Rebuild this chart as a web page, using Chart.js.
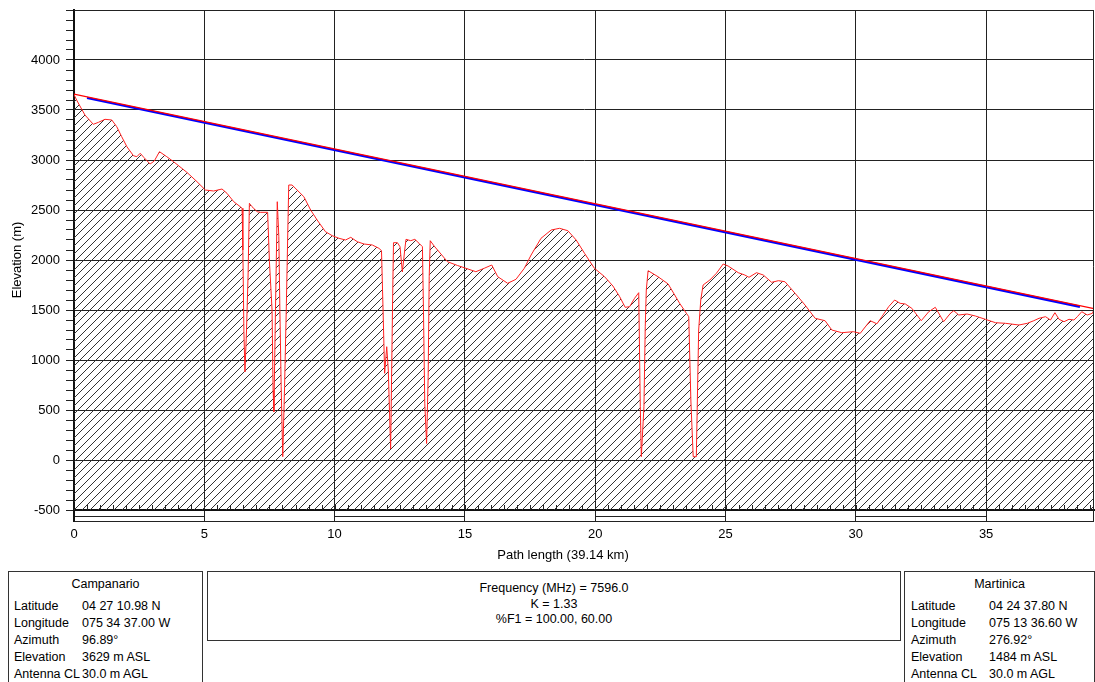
<!DOCTYPE html>
<html>
<head>
<meta charset="utf-8">
<title>Path profile</title>
<script src="https://cdn.jsdelivr.net/npm/chart.js@4.4.1/dist/chart.umd.min.js"></script>
<style>
  html, body { margin: 0; padding: 0; background: #fff; overflow: hidden; }
  body { width: 1095px; height: 682px; position: relative; font: 13px "Liberation Sans", Arial, sans-serif; color: #000; }
  #profile { position: absolute; left: 0; top: 0; }
  .xtitle { position: absolute; left: 463px; top: 547px; width: 200px; text-align: center; line-height: 16px; }
  .box { position: absolute; top: 571px; border: 1px solid #333; box-sizing: border-box; font-size: 12.5px; }
  .box div { position: absolute; line-height: 16px; white-space: nowrap; }
  .box .name { left: 0; right: 0; text-align: center; }
  .mid div { left: 0; right: 0; text-align: center; }
</style>
</head>
<body>
<canvas id="profile" width="1095" height="565"></canvas>
<div class="xtitle">Path length (39.14 km)</div>

<div class="box" style="left:8px;width:195px;height:130px;">
  <div class="name" style="top:4px;">Campanario</div>
  <div style="left:5px;top:26px;">Latitude</div><div style="left:73px;top:26px;">04 27 10.98 N</div>
  <div style="left:5px;top:43px;">Longitude</div><div style="left:73px;top:43px;">075 34 37.00 W</div>
  <div style="left:5px;top:60px;">Azimuth</div><div style="left:73px;top:60px;">96.89°</div>
  <div style="left:5px;top:77px;">Elevation</div><div style="left:73px;top:77px;">3629 m ASL</div>
  <div style="left:5px;top:94px;">Antenna CL</div><div style="left:73px;top:94px;">30.0 m AGL</div>
</div>

<div class="box mid" style="left:207px;width:694px;height:70px;">
  <div style="top:8px;">Frequency (MHz) = 7596.0</div>
  <div style="top:24px;">K = 1.33</div>
  <div style="top:39px;">%F1 = 100.00, 60.00</div>
</div>

<div class="box" style="left:904px;width:191px;height:130px;">
  <div class="name" style="top:4px;">Martinica</div>
  <div style="left:6px;top:26px;">Latitude</div><div style="left:84px;top:26px;">04 24 37.80 N</div>
  <div style="left:6px;top:43px;">Longitude</div><div style="left:84px;top:43px;">075 13 36.60 W</div>
  <div style="left:6px;top:60px;">Azimuth</div><div style="left:84px;top:60px;">276.92°</div>
  <div style="left:6px;top:77px;">Elevation</div><div style="left:84px;top:77px;">1484 m ASL</div>
  <div style="left:6px;top:94px;">Antenna CL</div><div style="left:84px;top:94px;">30.0 m AGL</div>
</div>

<script>
// terrain profile (distance km / elevation m)
var profileKm = [
  0, 0.1, 0.42, 0.74, 0.94, 1.19, 1.45, 1.64, 1.83, 2.03, 2.28, 2.41, 2.54, 2.69, 2.92, 3.08,
  3.28, 3.56, 3.82, 4.33, 4.72, 5.04, 5.36, 5.68, 5.87, 6.13, 6.38, 6.45, 6.48, 6.52, 6.56,
  6.62, 6.68, 6.73, 6.83, 7.03, 7.15, 7.43, 7.5, 7.6, 7.64, 7.67, 7.73, 7.8, 7.86, 7.9, 7.95,
  8.01, 8.08, 8.15, 8.21, 8.24, 8.37, 8.56, 8.82, 9.08, 9.33, 9.65, 9.91, 10.17, 10.42, 10.62,
  10.87, 11.13, 11.45, 11.7, 11.8, 11.86, 11.92, 12.0, 12.06, 12.15, 12.19, 12.23, 12.26,
  12.41, 12.51, 12.6, 12.69, 12.74, 12.92, 13.08, 13.24, 13.37, 13.41, 13.46, 13.53, 13.59,
  13.63, 13.67, 13.82, 14.08, 14.33, 14.72, 15.04, 15.42, 15.74, 16.03, 16.26, 16.64, 16.96,
  17.28, 17.54, 17.92, 18.31, 18.63, 18.95, 19.27, 19.59, 19.97, 20.36, 20.68, 20.94, 21.15,
  21.32, 21.51, 21.67, 21.73, 21.77, 21.87, 21.92, 21.96, 22.03, 22.41, 22.8, 23.24, 23.5,
  23.59, 23.67, 23.76, 23.88, 23.92, 23.97, 24.05, 24.14, 24.4, 24.65, 24.91, 25.1, 25.49,
  25.74, 25.9, 26.19, 26.45, 26.77, 27.03, 27.28, 27.67, 28.05, 28.44, 28.82, 29.08, 29.46,
  29.91, 30.17, 30.55, 30.81, 31.0, 31.26, 31.49, 31.7, 31.9, 32.15, 32.51, 32.8, 33.05,
  33.37, 33.63, 33.76, 33.95, 34.27, 34.59, 34.97, 35.36, 35.74, 36.26, 36.58, 36.83, 37.03,
  37.28, 37.47, 37.64, 37.8, 37.99, 38.18, 38.37, 38.5, 38.67, 38.88, 39.08, 39.14
];
var profileElev = [
  3655, 3600, 3450, 3357, 3377, 3407, 3400, 3333, 3233, 3133, 3043, 3033, 3067, 3023, 2960, 2990,
  3083, 3033, 2983, 2877, 2783, 2700, 2690, 2710, 2667, 2583, 2533, 2517, 2100, 1280, 880,
  1300, 1850, 2567, 2533, 2483, 2477, 2477, 1983, 1500, 700, 483, 1483, 2583, 2233, 1500, 733,
  33, 733, 1567, 2367, 2750, 2750, 2700, 2633, 2500, 2400, 2283, 2243, 2217, 2200, 2227,
  2183, 2160, 2150, 2117, 2093, 1500, 867, 1133, 900, 110, 900, 1667, 2173,
  2173, 2133, 1880, 2100, 2207, 2193, 2207, 2167, 2133, 1500, 567, 165, 833,
  1833, 2193, 2140, 2060, 1983, 1945, 1917, 1883, 1917, 1950, 1833, 1767, 1807,
  1917, 2050, 2217, 2300, 2317, 2293, 2200, 2067, 1917, 1833, 1740, 1633, 1527,
  1533, 1617, 1673, 533, 33, 533, 1333, 1700, 1893, 1833, 1760, 1567, 1467,
  1433, 600, 33, 33, 600, 1300, 1600, 1750, 1800, 1867, 1960, 1940, 1873,
  1850, 1827, 1873, 1850, 1777, 1793, 1783, 1667, 1550, 1417, 1393, 1300, 1273,
  1283, 1267, 1393, 1362, 1433, 1533, 1600, 1567, 1560, 1517, 1393, 1483, 1527,
  1383, 1467, 1493, 1450, 1460, 1440, 1407, 1373, 1367, 1350, 1367, 1393, 1417,
  1433, 1400, 1473, 1407, 1383, 1407, 1400, 1433, 1483, 1450, 1467, 1505
];

// line of sight (red) and the second ray (blue)
var losKm = [0, 39.14];
var losElev = [3659, 1514];
var rayKm = [0.5, 38.6];
var rayElev = [3621, 1533];

var xMin = 0;
var xMax = 39.14;
var xStep = 5;
var yMin = -500;
var yMax = 4500;
var yMinorStep = 100;
var yLabelStep = 500;

var FONT = { family: '"Liberation Sans", Arial, sans-serif', size: 13 };

function toPoints(xs, ys) {
  return xs.map(function (x, i) { return { x: x, y: ys[i] }; });
}

function makeHatch() {
  var c = document.createElement('canvas');
  c.width = 8;
  c.height = 8;
  var g = c.getContext('2d');
  g.strokeStyle = '#333';
  g.lineWidth = 1;
  g.beginPath();
  g.moveTo(-1, 9); g.lineTo(9, -1);
  g.moveTo(-1, 1); g.lineTo(1, -1);
  g.moveTo(7, 9); g.lineTo(9, 7);
  g.stroke();
  return g.createPattern(c, 'repeat');
}

// frame, scale strip under the baseline and the 0.5 km minor ticks
var frameDecor = {
  id: 'frameDecor',
  afterDraw: function (chart) {
    var ctx = chart.ctx;
    var a = chart.chartArea;
    var xs = chart.scales.x;
    var strip = 12;
    ctx.save();
    ctx.strokeStyle = '#222';
    ctx.lineWidth = 1;
    ctx.beginPath();
    ctx.moveTo(a.left, a.top + 0.5);
    ctx.lineTo(a.right - 0.5, a.top + 0.5);
    ctx.lineTo(a.right - 0.5, a.bottom + strip);
    ctx.stroke();

    ctx.beginPath();
    for (var k = 0.5; k < xMax; k += 0.5) {
      var px = Math.round(xs.getPixelForValue(k)) + 0.5;
      ctx.moveTo(px, a.bottom);
      ctx.lineTo(px, a.bottom - 5);
    }
    ctx.stroke();

    ctx.beginPath();
    ctx.moveTo(a.left, a.bottom + strip - 0.5);
    ctx.lineTo(a.right, a.bottom + strip - 0.5);
    for (var s = 0; s < xMax; s += 2 * xStep) {
      var x0 = xs.getPixelForValue(s);
      var x1 = xs.getPixelForValue(Math.min(s + xStep, xMax));
      ctx.moveTo(x0, a.bottom + 6.5);
      ctx.lineTo(x1, a.bottom + 6.5);
    }
    ctx.stroke();

    ctx.lineWidth = 2;
    ctx.strokeStyle = '#111';
    ctx.beginPath();
    ctx.moveTo(a.left, a.bottom);
    ctx.lineTo(a.left, a.bottom + strip);
    ctx.stroke();
    ctx.restore();
  }
};

new Chart(document.getElementById('profile'), {
  type: 'line',
  data: {
    datasets: [
      {
        data: toPoints(losKm, losElev),
        borderColor: '#ff0000',
        borderWidth: 1.3,
        pointRadius: 0,
        fill: false,
        order: 1,
      },
      {
        data: toPoints(rayKm, rayElev),
        borderColor: '#0000ff',
        borderWidth: 2.5,
        pointRadius: 0,
        fill: false,
        order: 2,
      },
      {
        data: toPoints(profileKm, profileElev),
        borderColor: '#ff2020',
        borderWidth: 1,
        backgroundColor: makeHatch(),
        pointRadius: 0,
        tension: 0,
        fill: 'start',
        order: 3,
      },
    ],
  },
  options: {
    responsive: false,
    animation: false,
    events: [],
    layout: { padding: { top: 10, right: 1, left: 0, bottom: 0 } },
    plugins: { legend: { display: false }, tooltip: { enabled: false } },
    scales: {
      x: {
        type: 'linear',
        min: xMin,
        max: xMax,
        ticks: { stepSize: xStep, includeBounds: false, padding: 5, color: '#000', font: FONT, maxRotation: 0 },
        grid: { color: '#222', tickLength: 12, tickColor: '#222' },
        border: { color: '#111', width: 2 },
        afterFit: function (s) { s.height = 55; s.paddingLeft = 0; s.paddingRight = 0; },
      },
      y: {
        min: yMin,
        max: yMax,
        ticks: {
          stepSize: yMinorStep,
          autoSkip: false,
          maxTicksLimit: 1000,
          padding: 6,
          color: '#000',
          font: FONT,
          callback: function (v) {
            return (v % yLabelStep === 0 && v < yMax) ? String(v) : '';
          },
        },
        grid: {
          tickLength: 8,
          tickColor: '#222',
          color: function (c) {
            return (c.tick && c.tick.value % yLabelStep === 0) ? '#222' : 'rgba(0,0,0,0)';
          },
        },
        border: { color: '#111', width: 2 },
        title: { display: true, text: 'Elevation (m)', color: '#000', font: FONT, padding: { top: 10, bottom: 0 } },
        afterFit: function (s) { s.width = 74; s.paddingTop = 0; s.paddingBottom = 0; },
      },
    },
  },
  plugins: [frameDecor],
});
</script>
</body>
</html>
